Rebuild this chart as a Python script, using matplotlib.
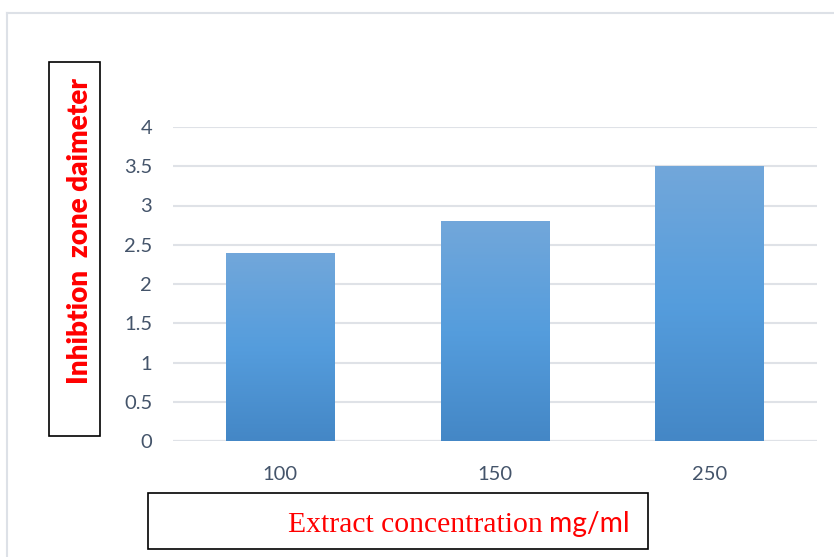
import matplotlib
matplotlib.use("Agg")
import matplotlib.pyplot as plt
import numpy as np
from matplotlib.colors import LinearSegmentedColormap
from matplotlib.lines import Line2D

# extract concentrations and mean inhibition zone diameters
concentrations = ["100", "150", "250"]
diameters = [2.4, 2.8, 3.5]
yticks = [0, 0.5, 1, 1.5, 2, 2.5, 3, 3.5, 4]

fig = plt.figure(figsize=(8.34, 5.57), dpi=100)
W, H = 834, 557
ax = fig.add_axes([173 / W, 1 - 441 / H, 644 / W, 314 / H])

x = np.arange(len(concentrations))
bars = ax.bar(x, diameters, width=0.505, color="none", zorder=3)

# vertical gradient fill for each bar
grad = LinearSegmentedColormap.from_list("bar", ["#4487c6", "#559ddd", "#72a7da"])
g = np.linspace(0, 1, 256).reshape(-1, 1)
for b in bars:
    x0, y0 = b.get_x(), b.get_y()
    im = ax.imshow(g, cmap=grad, origin="lower", aspect="auto",
                   extent=[x0, x0 + b.get_width(), y0, y0 + b.get_height()],
                   zorder=3)
    im.set_clip_path(b)

ax.set_xlim(-0.5, len(concentrations) - 0.5)
ax.set_ylim(0, 4)
ax.set_yticks(yticks)
ax.set_yticklabels([f"{v:g}" for v in yticks])
ax.set_xticks(x)
ax.set_xticklabels(concentrations)
ax.grid(axis="y", color="#dfe2e7", linewidth=1.5, zorder=0)
for s in ax.spines.values():
    s.set_visible(False)
ax.axhline(0, color="#dfe2e7", linewidth=1.5, zorder=1)
ax.tick_params(length=0, labelsize=14.5, labelcolor="#44546a")
ax.tick_params(axis="y", pad=15)
ax.tick_params(axis="x", pad=18)
for lab in ax.get_xticklabels() + ax.get_yticklabels():
    lab.set_fontfamily("Lato")

# outer chart border
fig.add_artist(Line2D([7 / W, 1], [1 - 13 / H] * 2, color="#dde1e7", lw=1.5))
fig.add_artist(Line2D([7 / W] * 2, [0, 1 - 13 / H], color="#dde1e7", lw=1.5))

# boxed y label
fig.add_artist(plt.Rectangle((49 / W, 1 - 436 / H), 51 / W, 374 / H,
                             fill=False, edgecolor="black", lw=1.2))
fig.text(80 / W, 1 - 231 / H, "Inhibtion  zone daimeter", rotation=90,
         ha="center", va="center", color="red", fontsize=20,
         fontweight="heavy", family="Lato")

# boxed x label
fig.add_artist(plt.Rectangle((148 / W, 1 - 549 / H), 500 / W, 56 / H,
                             fill=False, edgecolor="black", lw=1.2))
fig.text(543 / W, 1 - 532 / H, "Extract concentration", ha="right",
         va="baseline", color="red", fontsize=21.3, family="Liberation Serif")
fig.text(549 / W, 1 - 532 / H, "mg/ml", ha="left", va="baseline",
         color="red", fontsize=20.3, family="Lato")

fig.savefig("out.png", dpi=100)
